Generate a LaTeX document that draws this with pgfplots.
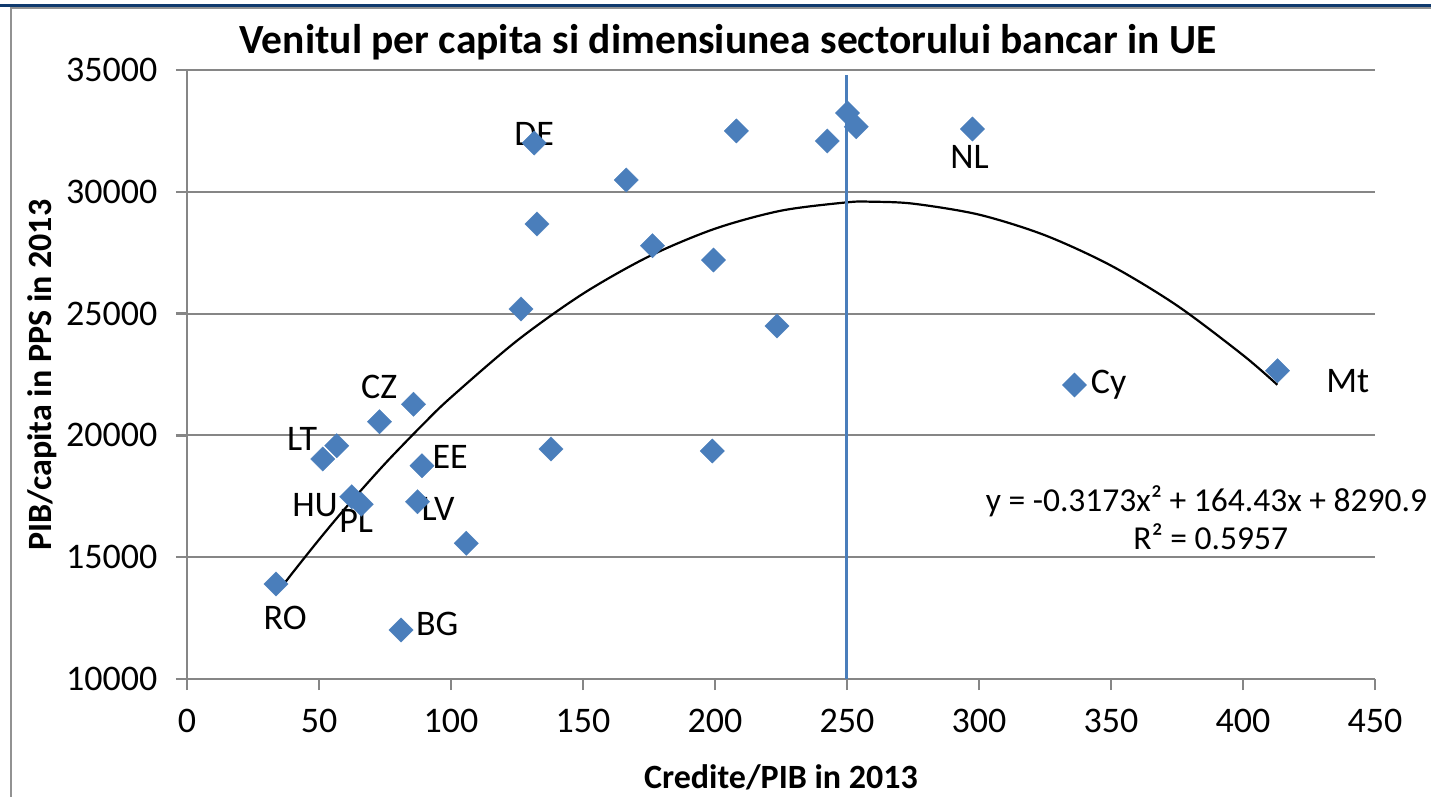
\documentclass[border=0pt]{standalone}
\usepackage{fontspec}
\setmainfont{Carlito}
\usepackage{pgfplots}
\pgfplotsset{compat=1.18}
\definecolor{ptblue}{RGB}{74,126,187}
\definecolor{axgray}{RGB}{134,134,134}
\definecolor{navy}{RGB}{16,58,110}
\begin{document}
\begin{tikzpicture}
\draw[navy, line width=3pt] (0pt,791.5pt) -- (1431pt,791.5pt);
\draw[axgray!90, line width=2.5pt] (11pt,0pt) -- (11pt,789pt) -- (1431pt,789pt);
\begin{axis}[
  at={(187pt,118pt)}, anchor=south west,
  scale only axis, width=1188pt, height=609pt,
  xmin=0, xmax=450, ymin=10000, ymax=35000,
  xtick={0,50,...,450}, ytick={10000,15000,...,35000},
  scaled y ticks=false, scaled x ticks=false,
  axis x line*=bottom, axis y line*=left,
  axis line style={axgray, line width=2.5pt},
  tick align=outside, major tick length=11pt,
  tick style={axgray, line width=2.5pt},
  ymajorgrids, grid style={axgray, line width=2pt},
  /pgf/number format/assume math mode=true,
  /pgf/number format/1000 sep={},
  ticklabel style={font=\fontsize{36}{42}\selectfont},
  xticklabel style={yshift=-16pt},
  yticklabel style={xshift=-15pt},
  title={Venitul per capita si dimensiunea sectorului bancar in UE},
  title style={font=\bfseries\fontsize{41.5}{48}\selectfont, at={(axis description cs:0.4554,1.036)}, anchor=center},
  xlabel={Credite/PIB in 2013},
  xlabel style={font=\bfseries\fontsize{34}{40}\selectfont, at={(axis description cs:0.5,-0.161)}, anchor=center},
  ylabel={PIB/capita in PPS in 2013},
  ylabel style={font=\bfseries\fontsize{34}{40}\selectfont, at={(axis description cs:-0.122,0.499)}, anchor=center, rotate=0},
  clip=false,
]
\addplot[only marks, mark=square*, mark size=8.6pt, mark options={rotate=45, fill=ptblue, draw=ptblue, line width=0.3pt}] coordinates {
(33.7,13900) (81.1,12012) (62.4,17484) (66.0,17172) (51.4,19031) (56.7,19577)
(72.9,20563) (85.8,21277) (89.0,18756) (87.3,17278) (105.8,15571) (137.9,19442)
(126.5,25189) (132.6,28678) (131.5,32003) (166.4,30485) (176.3,27787) (199.4,27200)
(199.0,19360) (208.1,32496) (223.5,24491) (242.5,32085) (250.2,33235) (253.5,32672)
(297.5,32578) (336.2,22069) (413.1,22656)
};
\addplot[black, line width=2.2pt, smooth, no marks] coordinates {
(34,13514.7) (40,14360.4) (50,15719.2) (60,17014.4) (75,18838.3) (90,20519.5)
(100,21560.9) (125,23886.8) (150,25816.2) (175,27348.9) (200,28484.9) (225,29224.4)
(250,29567.2) (259,29593.5) (275,29513.4) (300,29062.9) (325,28215.9) (350,26972.2)
(375,25331.9) (400,23294.9) (413,22079.0)
};
\addplot[ptblue, line width=3pt, no marks] coordinates {(250,10000) (250,34800)};
\begin{scope}[every node/.style={font=\fontsize{36}{42}\selectfont, inner sep=0pt, anchor=base}]
\node at (axis cs:37.15,12012) {RO};
\node at (axis cs:94.8,11766) {BG};
\node at (axis cs:48.5,16671) {HU};
\node at (axis cs:64.1,16014) {PL};
\node at (axis cs:43.6,19380) {LT};
\node at (axis cs:72.8,21515) {CZ};
\node at (axis cs:99.7,18641) {EE};
\node at (axis cs:95.1,16507) {LV};
\node at (axis cs:131.5,31901) {DE};
\node at (axis cs:296.4,30957) {NL};
\node at (axis cs:349.1,21700) {Cy};
\node at (axis cs:439.7,21741) {Mt};
\end{scope}
\node[font=\fontsize{33.5}{38}\selectfont, inner sep=0pt, anchor=base west] at (axis cs:302.5,16856) {y = -0.3173x² + 164.43x + 8290.9};
\node[font=\fontsize{33.5}{38}\selectfont, inner sep=0pt, anchor=base] at (axis cs:387.8,15296) {R² = 0.5957};
\end{axis}
\pgfresetboundingbox
\path[use as bounding box] (0pt,0pt) rectangle (1431pt,797pt);
\end{tikzpicture}
\end{document}
